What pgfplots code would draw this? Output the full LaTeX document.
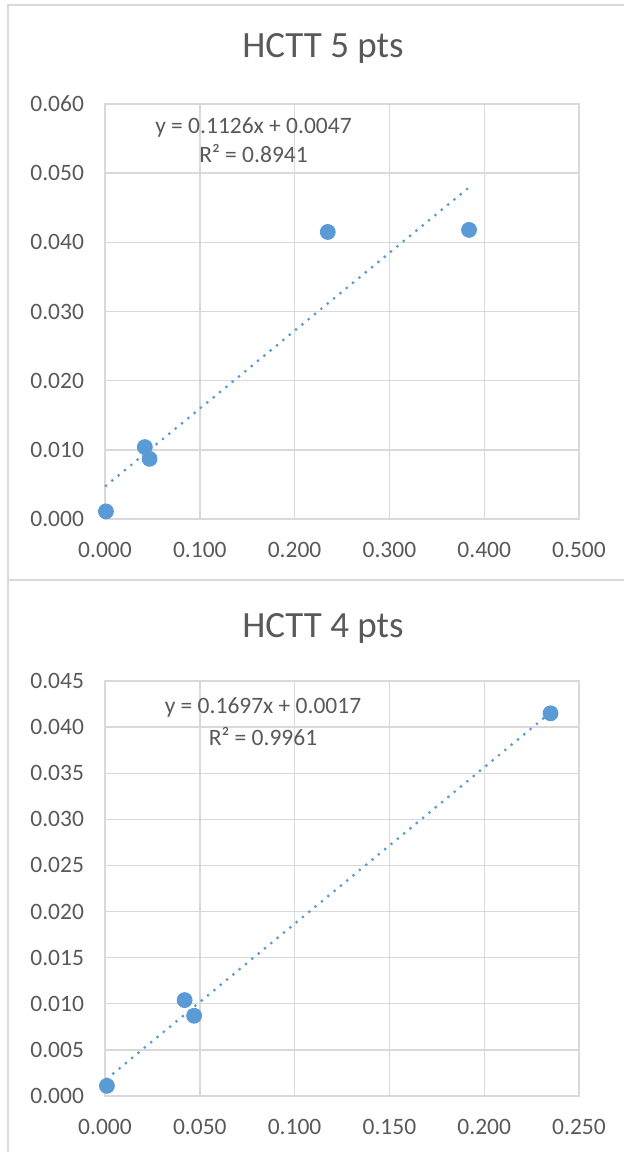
\documentclass[border=0pt]{standalone}
\usepackage{fontspec}
\setmainfont{Carlito}
\usepackage{pgfplots}
\pgfplotsset{compat=1.18}
\definecolor{txt}{HTML}{595959}
\definecolor{grd}{HTML}{D9D9D9}
\definecolor{blu}{HTML}{5B9BD5}
\newcommand{\ticks}{\fontsize{11.75}{14}\selectfont}
\newcommand{\ttl}{\fontsize{18.5}{22}\selectfont}

\pgfplotsset{
  hctt/.style={
    scale only axis, width=237pt, height=207.5pt,
    anchor=south west, clip=false,
    axis line style={draw=grd, line width=0.7pt},
    grid=major, major grid style={draw=grd, line width=0.7pt},
    major tick length=0pt,
    scaled ticks=false,
    ticklabel style={font=\ticks, text=txt},
    xticklabel style={yshift=-8pt},
    yticklabel style={xshift=-7pt},
    /pgf/number format/.cd, fixed, fixed zerofill, precision=3, assume math mode=true,
  },
  markstyle/.style={only marks, mark=*, mark size=3.75pt, mark options={draw=blu, fill=blu}},
  trend/.style={blu, line width=1.6pt, line cap=round, dash pattern=on 0pt off 4.1pt},
}

\begin{document}
\begin{tikzpicture}
\useasboundingbox (0pt,0pt) rectangle (312pt,-576pt);
\draw[grd, line width=0.7pt] (4pt,-576pt) -- (4pt,-2.5pt) -- (312pt,-2.5pt);
\draw[grd, line width=0.7pt] (4pt,-290pt) -- (312pt,-290pt);

% HCTT 5 pts
\node[txt, font=\ttl] at (161.5pt,-24pt) {HCTT 5 pts};
\begin{axis}[hctt, at={(52.5pt,-259.5pt)},
  xmin=0, xmax=0.5, ymin=0, ymax=0.06,
  xtick={0,0.1,0.2,0.3,0.4,0.5},
  ytick={0,0.01,0.02,0.03,0.04,0.05,0.06}]
\addplot[trend] coordinates {(0.001,0.00481) (0.384,0.04794)};
\addplot[markstyle] coordinates {
  (0.001,0.0011) (0.042,0.0104) (0.047,0.0087) (0.235,0.0415) (0.384,0.0418)};
\end{axis}
\node[txt, font=\ticks] at (126.75pt,-63.5pt) {y = 0.1126x + 0.0047};
\node[txt, font=\ticks] at (126.75pt,-77pt) {R² = 0.8941};

% HCTT 4 pts
\node[txt, font=\ttl] at (161.5pt,-314pt) {HCTT 4 pts};
\begin{axis}[hctt, at={(52.5pt,-548pt)},
  xmin=0, xmax=0.25, ymin=0, ymax=0.045,
  xtick={0,0.05,0.1,0.15,0.2,0.25},
  ytick={0,0.005,0.01,0.015,0.02,0.025,0.03,0.035,0.04,0.045}]
\addplot[trend] coordinates {(0.001,0.00187) (0.235,0.04158)};
\addplot[markstyle] coordinates {
  (0.001,0.0011) (0.042,0.0104) (0.047,0.0087) (0.235,0.0415)};
\end{axis}
\node[txt, font=\ticks] at (131.5pt,-353.5pt) {y = 0.1697x + 0.0017};
\node[txt, font=\ticks] at (131.5pt,-368.5pt) {R² = 0.9961};
\end{tikzpicture}
\end{document}
